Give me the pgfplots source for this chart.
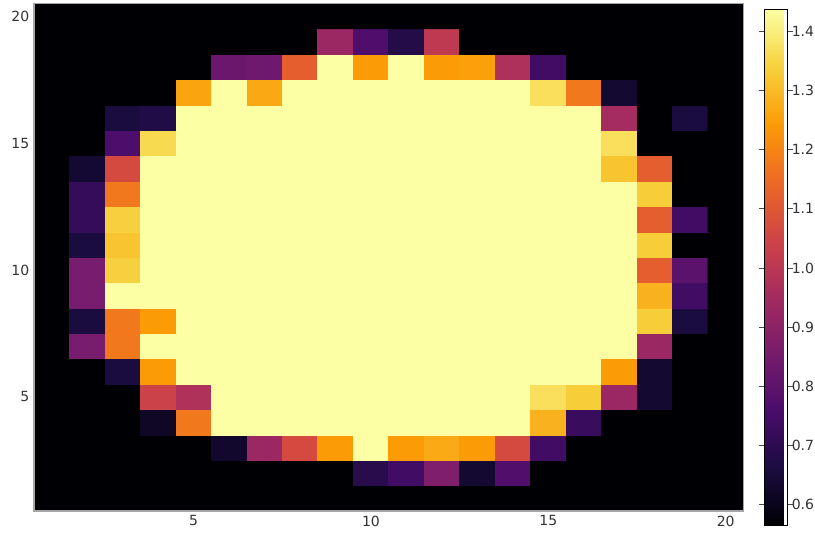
\documentclass[border=0pt]{standalone}
\usepackage{fontspec}
\setmainfont{DejaVu Sans}
\usepackage{pgfplots}
\pgfplotsset{compat=1.18}
\pgfplotsset{colormap={inferno}{rgb255=(0,0,4) rgb255=(27,12,65) rgb255=(74,12,107) rgb255=(120,28,109) rgb255=(165,44,96) rgb255=(207,68,70) rgb255=(237,105,37) rgb255=(251,155,6) rgb255=(247,209,61) rgb255=(252,255,164)}}
\begin{document}
\begin{tikzpicture}
\path[use as bounding box] (0,0) rectangle (611.25pt,399.75pt);
\begin{axis}[
  at={(25.5pt,16.5pt)}, anchor=south west,
  scale only axis, width=532.1pt, height=380.6pt,
  xmin=0.5, xmax=20.5, ymin=0.5, ymax=20.5,
  y dir=normal,
  xtick={5,10,15,20}, ytick={5,10,15,20},
  major tick length=0pt,
  axis line style={draw=black!35, line width=0.8pt},
  axis background/.style={fill={rgb,255:red,0;green,0;blue,4}},
  tick label style={font=\fontsize{10.5pt}{12pt}\selectfont, text=black!80},
  /pgf/number format/assume math mode=true,
  colormap name=inferno,
  point meta min=0.564, point meta max=1.438,
  colorbar,
  colorbar style={
    at={(parent axis.south east)}, anchor=south west,
    xshift=7.35pt, yshift=-11pt,
    scale only axis, width=16.8pt, height=387.5pt,
    ytick={0.6,0.7,0.8,0.9,1.0,1.1,1.2,1.3,1.4},
    yticklabel style={/pgf/number format/.cd, fixed, fixed zerofill, precision=1, assume math mode=true},
    tick label style={font=\fontsize{10.5pt}{12pt}\selectfont, text=black!80, xshift=-4.5pt},
    major tick length=4.5pt, tick align=outside,
    major tick style={draw=black!70, line width=0.6pt},
    axis line style={draw=black, line width=0.6pt},
  },
  axis on top,
]
\addplot[matrix plot*, shader=faceted, faceted color=mapped color, line width=0.5pt, mesh/cols=20, point meta=explicit] table[row sep=\\, meta=c]{
x y c\\
1 1 .564\\2 1 .564\\3 1 .564\\4 1 .564\\5 1 .564\\6 1 .564\\7 1 .564\\8 1 .564\\9 1 .564\\10 1 .564\\11 1 .564\\12 1 .564\\13 1 .564\\14 1 .564\\15 1 .564\\16 1 .564\\17 1 .564\\18 1 .564\\19 1 .564\\20 1 .564\\
1 2 .564\\2 2 .564\\3 2 .564\\4 2 .564\\5 2 .564\\6 2 .564\\7 2 .564\\8 2 .564\\9 2 .564\\10 2 .687\\11 2 .74\\12 2 .87\\13 2 .635\\14 2 .772\\15 2 .564\\16 2 .564\\17 2 .564\\18 2 .564\\19 2 .564\\20 2 .564\\
1 3 .564\\2 3 .564\\3 3 .564\\4 3 .564\\5 3 .564\\6 3 .63\\7 3 .93\\8 3 1.065\\9 3 1.243\\10 3 1.438\\11 3 1.243\\12 3 1.27\\13 3 1.243\\14 3 1.065\\15 3 .74\\16 3 .564\\17 3 .564\\18 3 .564\\19 3 .564\\20 3 .564\\
1 4 .564\\2 4 .564\\3 4 .564\\4 4 .62\\5 4 1.175\\6 4 1.438\\7 4 1.438\\8 4 1.438\\9 4 1.438\\10 4 1.438\\11 4 1.438\\12 4 1.438\\13 4 1.438\\14 4 1.438\\15 4 1.284\\16 4 .726\\17 4 .564\\18 4 .564\\19 4 .564\\20 4 .564\\
1 5 .564\\2 5 .564\\3 5 .564\\4 5 1.04\\5 5 .976\\6 5 1.438\\7 5 1.438\\8 5 1.438\\9 5 1.438\\10 5 1.438\\11 5 1.438\\12 5 1.438\\13 5 1.438\\14 5 1.438\\15 5 1.37\\16 5 1.334\\17 5 .93\\18 5 .635\\19 5 .564\\20 5 .564\\
1 6 .564\\2 6 .564\\3 6 .66\\4 6 1.243\\5 6 1.438\\6 6 1.438\\7 6 1.438\\8 6 1.438\\9 6 1.438\\10 6 1.438\\11 6 1.438\\12 6 1.438\\13 6 1.438\\14 6 1.438\\15 6 1.438\\16 6 1.438\\17 6 1.243\\18 6 .635\\19 6 .564\\20 6 .564\\
1 7 .564\\2 7 .855\\3 7 1.175\\4 7 1.438\\5 7 1.438\\6 7 1.438\\7 7 1.438\\8 7 1.438\\9 7 1.438\\10 7 1.438\\11 7 1.438\\12 7 1.438\\13 7 1.438\\14 7 1.438\\15 7 1.438\\16 7 1.438\\17 7 1.438\\18 7 .93\\19 7 .564\\20 7 .564\\
1 8 .564\\2 8 .66\\3 8 1.175\\4 8 1.243\\5 8 1.438\\6 8 1.438\\7 8 1.438\\8 8 1.438\\9 8 1.438\\10 8 1.438\\11 8 1.438\\12 8 1.438\\13 8 1.438\\14 8 1.438\\15 8 1.438\\16 8 1.438\\17 8 1.438\\18 8 1.334\\19 8 .66\\20 8 .564\\
1 9 .564\\2 9 .855\\3 9 1.438\\4 9 1.438\\5 9 1.438\\6 9 1.438\\7 9 1.438\\8 9 1.438\\9 9 1.438\\10 9 1.438\\11 9 1.438\\12 9 1.438\\13 9 1.438\\14 9 1.438\\15 9 1.438\\16 9 1.438\\17 9 1.438\\18 9 1.284\\19 9 .74\\20 9 .564\\
1 10 .564\\2 10 .855\\3 10 1.34\\4 10 1.438\\5 10 1.438\\6 10 1.438\\7 10 1.438\\8 10 1.438\\9 10 1.438\\10 10 1.438\\11 10 1.438\\12 10 1.438\\13 10 1.438\\14 10 1.438\\15 10 1.438\\16 10 1.438\\17 10 1.438\\18 10 1.117\\19 10 .795\\20 10 .564\\
1 11 .564\\2 11 .66\\3 11 1.319\\4 11 1.438\\5 11 1.438\\6 11 1.438\\7 11 1.438\\8 11 1.438\\9 11 1.438\\10 11 1.438\\11 11 1.438\\12 11 1.438\\13 11 1.438\\14 11 1.438\\15 11 1.438\\16 11 1.438\\17 11 1.438\\18 11 1.334\\19 11 .564\\20 11 .564\\
1 12 .564\\2 12 .715\\3 12 1.34\\4 12 1.438\\5 12 1.438\\6 12 1.438\\7 12 1.438\\8 12 1.438\\9 12 1.438\\10 12 1.438\\11 12 1.438\\12 12 1.438\\13 12 1.438\\14 12 1.438\\15 12 1.438\\16 12 1.438\\17 12 1.438\\18 12 1.117\\19 12 .74\\20 12 .564\\
1 13 .564\\2 13 .715\\3 13 1.175\\4 13 1.438\\5 13 1.438\\6 13 1.438\\7 13 1.438\\8 13 1.438\\9 13 1.438\\10 13 1.438\\11 13 1.438\\12 13 1.438\\13 13 1.438\\14 13 1.438\\15 13 1.438\\16 13 1.438\\17 13 1.438\\18 13 1.334\\19 13 .564\\20 13 .564\\
1 14 .564\\2 14 .637\\3 14 1.065\\4 14 1.438\\5 14 1.438\\6 14 1.438\\7 14 1.438\\8 14 1.438\\9 14 1.438\\10 14 1.438\\11 14 1.438\\12 14 1.438\\13 14 1.438\\14 14 1.438\\15 14 1.438\\16 14 1.438\\17 14 1.319\\18 14 1.117\\19 14 .564\\20 14 .564\\
1 15 .564\\2 15 .564\\3 15 .765\\4 15 1.36\\5 15 1.438\\6 15 1.438\\7 15 1.438\\8 15 1.438\\9 15 1.438\\10 15 1.438\\11 15 1.438\\12 15 1.438\\13 15 1.438\\14 15 1.438\\15 15 1.438\\16 15 1.438\\17 15 1.37\\18 15 .564\\19 15 .564\\20 15 .564\\
1 16 .564\\2 16 .564\\3 16 .66\\4 16 .672\\5 16 1.438\\6 16 1.438\\7 16 1.438\\8 16 1.438\\9 16 1.438\\10 16 1.438\\11 16 1.438\\12 16 1.438\\13 16 1.438\\14 16 1.438\\15 16 1.438\\16 16 1.438\\17 16 .951\\18 16 .564\\19 16 .66\\20 16 .564\\
1 17 .564\\2 17 .564\\3 17 .564\\4 17 .564\\5 17 1.26\\6 17 1.438\\7 17 1.268\\8 17 1.438\\9 17 1.438\\10 17 1.438\\11 17 1.438\\12 17 1.438\\13 17 1.438\\14 17 1.438\\15 17 1.37\\16 17 1.175\\17 17 .635\\18 17 .564\\19 17 .564\\20 17 .564\\
1 18 .564\\2 18 .564\\3 18 .564\\4 18 .564\\5 18 .564\\6 18 .825\\7 18 .835\\8 18 1.12\\9 18 1.438\\10 18 1.243\\11 18 1.438\\12 18 1.243\\13 18 1.25\\14 18 .972\\15 18 .74\\16 18 .564\\17 18 .564\\18 18 .564\\19 18 .564\\20 18 .564\\
1 19 .564\\2 19 .564\\3 19 .564\\4 19 .564\\5 19 .564\\6 19 .564\\7 19 .564\\8 19 .564\\9 19 .93\\10 19 .768\\11 19 .678\\12 19 1.01\\13 19 .564\\14 19 .564\\15 19 .564\\16 19 .564\\17 19 .564\\18 19 .564\\19 19 .564\\20 19 .564\\
1 20 .564\\2 20 .564\\3 20 .564\\4 20 .564\\5 20 .564\\6 20 .564\\7 20 .564\\8 20 .564\\9 20 .564\\10 20 .564\\11 20 .564\\12 20 .564\\13 20 .564\\14 20 .564\\15 20 .564\\16 20 .564\\17 20 .564\\18 20 .564\\19 20 .564\\20 20 .564\\
};
\end{axis}
\end{tikzpicture}
\end{document}
